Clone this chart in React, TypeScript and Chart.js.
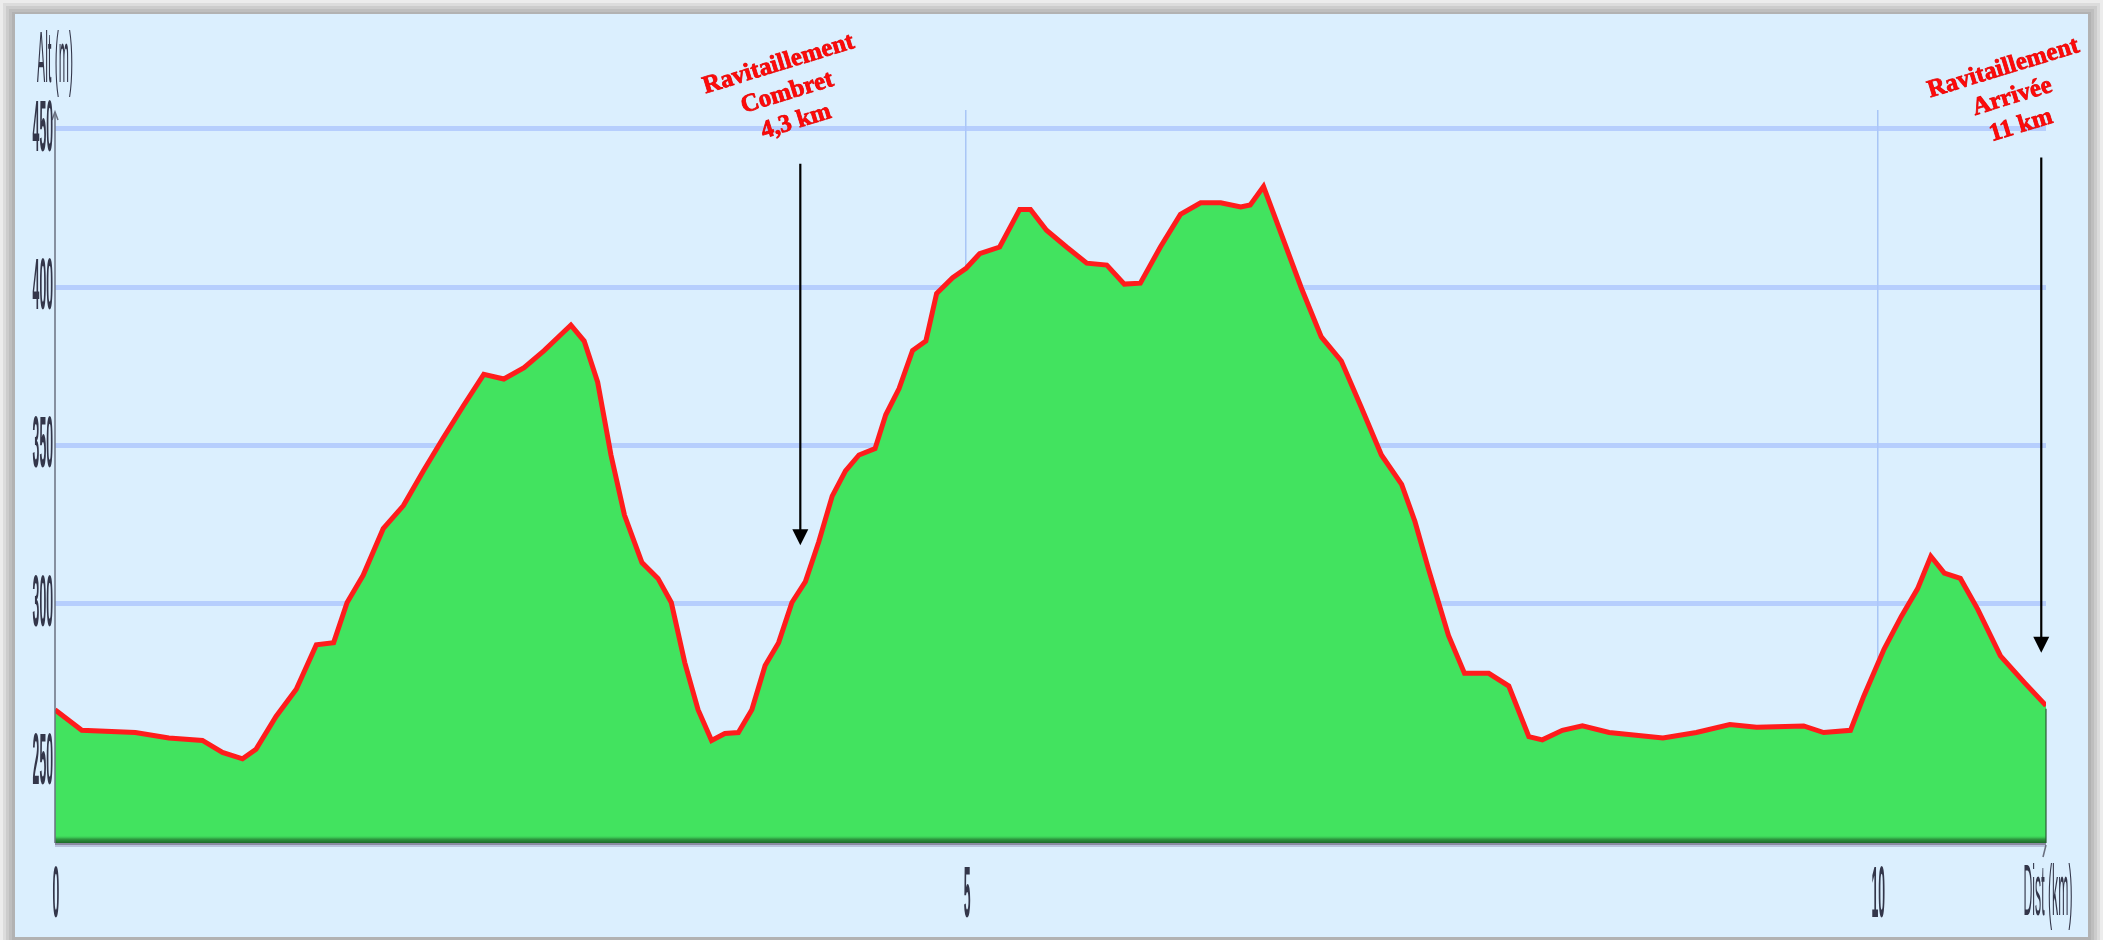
import React, { useEffect, useRef } from 'react';
import { Chart, registerables } from 'chart.js';

Chart.register(...registerables);

// ---- Data ----
const distanceKm = [
  0, 0.147, 0.441, 0.625, 0.809, 0.919, 1.029, 1.103, 1.213, 1.324, 1.434, 1.529, 1.603, 1.691,
  1.801, 1.912, 2.022, 2.132, 2.243, 2.353, 2.463, 2.574, 2.684, 2.794, 2.831, 2.904, 2.978,
  3.051, 3.125, 3.221, 3.309, 3.382, 3.456, 3.529, 3.603, 3.676, 3.75, 3.824, 3.897, 3.971,
  4.044, 4.118, 4.191, 4.265, 4.338, 4.412, 4.5, 4.559, 4.632, 4.706, 4.779, 4.838, 4.926, 5.0,
  5.074, 5.184, 5.294, 5.353, 5.441, 5.551, 5.662, 5.772, 5.868, 5.956, 6.066, 6.176, 6.287,
  6.397, 6.507, 6.559, 6.632, 6.728, 6.838, 6.949, 7.059, 7.169, 7.279, 7.39, 7.463, 7.537,
  7.647, 7.735, 7.868, 7.978, 8.088, 8.162, 8.272, 8.382, 8.529, 8.824, 9.007, 9.191, 9.338,
  9.596, 9.706, 9.853, 9.926, 10.037, 10.132, 10.221, 10.294, 10.368, 10.456, 10.551, 10.676,
  10.809, 10.926,
];
const altitudeM = [
  266.5, 260, 259.3, 257.6, 256.8, 253, 251, 254, 264.4, 273, 287, 287.7, 300.4, 309,
  323.7, 331, 342, 352.5, 362.7, 372.5, 371, 374.6, 380, 386, 388, 383, 370,
  347, 328, 313, 308, 300.4, 281.4, 266.5, 256.8, 259, 259.3, 266.5, 280.5, 287.7,
  300.4, 307, 319.5, 334, 342, 347, 349, 359.7, 368, 380, 383, 398, 403, 406,
  410.6, 412.7, 424.6, 424.6, 418, 412.7, 407.6, 407, 401, 401.3, 412.7, 423, 426.7,
  426.7, 425.4, 426, 431.8, 417, 400, 384.3, 376.7, 362, 347, 337.7, 326, 311,
  290, 278, 278, 274, 258, 257, 260, 261.4, 259.3, 257.6, 259.3, 261.8, 261,
  261.4, 259.3, 260, 270.8, 285.6, 296, 304.7, 315, 309.7, 308, 298.3, 283.5,
  275, 267.8,
];
const yTickValues = [250, 300, 350, 400, 450];
const yTickLabels = ['250', '300', '350', '400', '450'];
const xTickValues = [0, 5, 10];
const xTickLabels = ['0', '5', '10'];
const yAxisTitle = 'Alt (m)';
const xAxisTitle = 'Dist (km)';
const yMin = 224.4;
const yMax = 456;
const annotationKm = [4.09, 10.9];
const arrowTopAlt = [439, 441];
const arrowTipAlt = [318.5, 284.5];
const annotationLines = [
  ['Ravitaillement', 'Combret', '4,3 km'],
  ['Ravitaillement', 'Arrivée', '11 km'],
];

const W = 2103;
const H = 940;

function drawCondensed(ctx: CanvasRenderingContext2D, text: string, x: number, y: number, align: CanvasTextAlign) {
  ctx.save();
  ctx.translate(x, y);
  ctx.scale(0.17, 1);
  ctx.textAlign = align;
  ctx.textBaseline = 'alphabetic';
  ctx.fillText(text, 0, 0);
  ctx.restore();
}

const framePlugin = {
  id: 'frame',
  beforeDraw(chart: any) {
    const ctx = chart.ctx as CanvasRenderingContext2D;
    ctx.save();
    const shades = ['#ececec', '#dcdcdc', '#cccccc', '#bebebe', '#b2b2b2'];
    shades.forEach((c, i) => {
      ctx.fillStyle = c;
      ctx.fillRect(i * 3, i * 3, W - i * 6, H - i * 3);
    });
    ctx.fillStyle = '#dbeffe';
    ctx.fillRect(15, 14, 2073, 923);
    ctx.restore();
  },
};

const overlayPlugin = {
  id: 'overlay',
  afterDatasetsDraw(chart: any) {
    const ctx = chart.ctx as CanvasRenderingContext2D;
    const xs = chart.scales.x;
    const ys = chart.scales.y;
    const area = chart.chartArea;
    ctx.save();

    // dark shading at the bottom of the fill
    const g = ctx.createLinearGradient(0, area.bottom - 8, 0, area.bottom);
    g.addColorStop(0, 'rgba(66,227,95,0)');
    g.addColorStop(0.5, '#2e9a40');
    g.addColorStop(1, '#1e6a2b');
    ctx.fillStyle = g;
    ctx.fillRect(area.left, area.bottom - 8, area.right - area.left, 8);
    ctx.fillStyle = '#8a8aa2';
    ctx.fillRect(area.left, area.bottom, area.right - area.left, 2);
    ctx.fillStyle = 'rgba(160,165,200,0.6)';
    ctx.fillRect(area.left, area.bottom + 2, area.right - area.left, 2);

    // thin outline at the right edge of the fill
    const lastX = xs.getPixelForValue(distanceKm[distanceKm.length - 1]);
    const lastY = ys.getPixelForValue(altitudeM[altitudeM.length - 1]);
    ctx.strokeStyle = '#2c5a34';
    ctx.lineWidth = 1.2;
    ctx.beginPath();
    ctx.moveTo(lastX, lastY + 3);
    ctx.lineTo(lastX, area.bottom);
    ctx.stroke();

    // y axis line with arrow
    ctx.strokeStyle = '#6a7080';
    ctx.lineWidth = 1.5;
    ctx.beginPath();
    ctx.moveTo(area.left, area.top + 2);
    ctx.lineTo(area.left, area.bottom);
    ctx.stroke();
    ctx.beginPath();
    ctx.moveTo(area.left - 3, area.top + 10);
    ctx.lineTo(area.left, area.top + 2);
    ctx.lineTo(area.left + 3, area.top + 10);
    ctx.stroke();
    // x axis end mark
    ctx.beginPath();
    ctx.moveTo(area.right, area.bottom + 2);
    ctx.lineTo(area.right - 3, area.bottom + 14);
    ctx.stroke();

    // tick labels and titles (condensed)
    ctx.filter = 'blur(0.7px)';
    ctx.fillStyle = '#33364a';
    ctx.font = 'bold 72px "Liberation Sans", Arial, sans-serif';
    yTickValues.forEach((v, i) => {
      const py = ys.getPixelForValue(v);
      drawCondensed(ctx, yTickLabels[i], area.left - 2, py + 22, 'right');
    });
    xTickValues.forEach((v, i) => {
      const px = xs.getPixelForValue(v);
      drawCondensed(ctx, xTickLabels[i], px + 1, area.bottom + 74, 'center');
    });
    ctx.font = '72px "Liberation Sans", Arial, sans-serif';
    drawCondensed(ctx, xAxisTitle, area.right + 2, area.bottom + 72, 'center');
    drawCondensed(ctx, yAxisTitle, 37, 82, 'left');
    ctx.filter = 'none';

    // arrows
    annotationKm.forEach((km, i) => {
      const px = xs.getPixelForValue(km);
      const top = ys.getPixelForValue(arrowTopAlt[i]);
      const tip = ys.getPixelForValue(arrowTipAlt[i]);
      ctx.strokeStyle = '#000000';
      ctx.lineWidth = 2.2;
      ctx.beginPath();
      ctx.moveTo(px, top);
      ctx.lineTo(px, tip - 12);
      ctx.stroke();
      ctx.fillStyle = '#000000';
      ctx.beginPath();
      ctx.moveTo(px - 8, tip - 16);
      ctx.lineTo(px + 8, tip - 16);
      ctx.lineTo(px, tip);
      ctx.closePath();
      ctx.fill();
    });

    // rotated red labels
    const labelDx = [-13, -29];
    const labelY = [93, 97];
    annotationKm.forEach((km, i) => {
      const px = xs.getPixelForValue(km) + labelDx[i];
      ctx.save();
      ctx.translate(px, labelY[i]);
      ctx.rotate((-17 * Math.PI) / 180);
      ctx.font = 'bold 25px "Liberation Serif", "Times New Roman", serif';
      ctx.textAlign = 'center';
      ctx.textBaseline = 'middle';
      ctx.fillStyle = '#ff0a0a';
      ctx.strokeStyle = 'rgba(230,0,0,0.9)';
      ctx.lineWidth = 0.8;
      annotationLines[i].forEach((line, j) => {
        ctx.fillText(line, 0, (j - 1) * 30);
        ctx.strokeText(line, 0, (j - 1) * 30);
      });
      ctx.restore();
    });

    ctx.restore();
  },
};

export default function App() {
  const canvasRef = useRef<HTMLCanvasElement | null>(null);

  useEffect(() => {
    const canvas = canvasRef.current;
    if (!canvas) return;
    const chart = new Chart(canvas, {
      type: 'line',
      data: {
        datasets: [
          {
            label: 'Altitude',
            data: distanceKm.map((d, i) => ({ x: d, y: altitudeM[i] })),
            borderColor: '#ff1c1c',
            borderWidth: 5,
            backgroundColor: '#42e35f',
            fill: 'start',
            pointRadius: 0,
            tension: 0,
          },
        ],
      },
      options: {
        responsive: false,
        animation: false,
        devicePixelRatio: 1,
        layout: { padding: { left: 55, right: 57, top: 110, bottom: 97 } },
        plugins: {
          legend: { display: false },
          tooltip: { enabled: false },
          title: { display: false },
        },
        scales: {
          x: {
            type: 'linear',
            min: 0,
            max: distanceKm[distanceKm.length - 1],
            afterBuildTicks: (s: any) => {
              s.ticks = xTickValues.map((v) => ({ value: v }));
            },
            afterFit: (s: any) => {
              s.height = 0;
            },
            ticks: { display: false },
            border: { display: false },
            grid: {
              drawTicks: false,
              lineWidth: 1.5,
              color: (c: any) => (c.tick && c.tick.value === 0 ? 'rgba(0,0,0,0)' : 'rgba(160,190,245,0.85)'),
            },
          },
          y: {
            type: 'linear',
            min: yMin,
            max: yMax,
            afterBuildTicks: (s: any) => {
              s.ticks = yTickValues.map((v) => ({ value: v }));
            },
            afterFit: (s: any) => {
              s.width = 0;
            },
            ticks: { display: false },
            border: { display: false },
            grid: {
              drawTicks: false,
              lineWidth: 5,
              color: 'rgba(172,198,252,0.8)',
            },
          },
        },
      },
      plugins: [framePlugin, overlayPlugin],
    });
    return () => chart.destroy();
  }, []);

  return (
    <div style={{ position: 'absolute', left: 0, top: 0, width: W, height: H }}>
      <canvas ref={canvasRef} width={W} height={H} style={{ width: W, height: H, display: 'block' }} />
    </div>
  );
}
